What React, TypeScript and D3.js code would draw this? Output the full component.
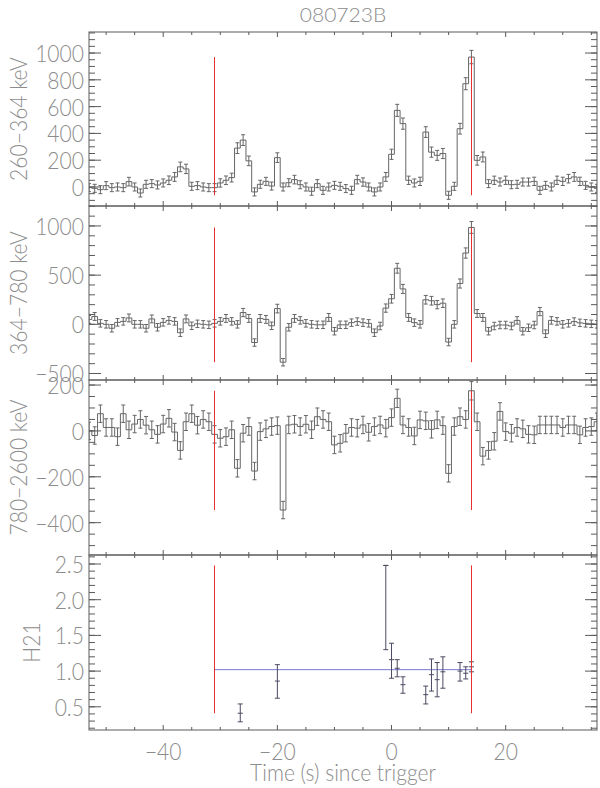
import React from "react";
import * as d3 from "d3";

// 1-s bins, centres in seconds since trigger
const BIN_CENTERS = d3.range(-53, 37);

const RATE_260_364 = [
  -5, -10, -20, 10, -5, 0, -5, 40, 0, -45,
  20, 25, 15, 30, 50, 75, 150, 135, 5, 10,
  0, -5, -5, 30, 50, 70, 290, 350, 195, -37,
  20, 42, 7, 219, 0, 32, 55, 17, 0, -32,
  25, -25, 0, 12, 5, -12, -25, 55, 37, 0,
  -37, 0, 75, 244, 572, 473, 50, 30, 42, 410,
  260, 236, 250, -62, 5, 435, 771, 970, 199, 224,
  25, 50, 37, 50, 17, 20, 37, 37, 42, -25,
  12, 0, 50, 42, 62, 75, 42, 12, 0, -10,
];
const ERR_260_364 = [
  30, 30, 30, 30, 30, 30, 30, 32, 30, 30,
  30, 30, 30, 30, 32, 33, 36, 35, 30, 30,
  30, 30, 30, 31, 32, 33, 40, 40, 36, 30,
  30, 30, 30, 36, 30, 30, 32, 30, 30, 30,
  30, 30, 30, 30, 30, 30, 30, 32, 31, 30,
  30, 30, 33, 38, 45, 42, 31, 30, 31, 40,
  38, 37, 38, 30, 30, 40, 45, 50, 36, 37,
  30, 31, 30, 31, 30, 30, 30, 30, 31, 30,
  30, 30, 31, 31, 32, 33, 31, 30, 30, 30,
];

const RATE_364_780 = [
  50, 80, 10, 0, -40, 20, 30, 65, 0, 0,
  -40, 55, -30, 20, 40, 30, -85, 55, -15, 5,
  0, -5, 10, 30, 60, 30, 0, 120, 60, -185,
  60, 50, -15, 160, -385, -30, 60, 40, 10, 0,
  -5, -5, 70, -70, -5, -5, 17, 28, 17, 10,
  -85, -17, 165, 260, 570, 360, 70, 17, 0, 250,
  240, 200, 215, -180, 0, 415, 725, 985, 110, 70,
  -70, -17, -7, -7, -17, 40, -70, -35, -7, 130,
  -95, 40, 30, 0, 10, 28, 15, 10, 5, 0,
];
const ERR_364_780 = [
  40, 40, 38, 38, 38, 38, 38, 40, 38, 38,
  38, 40, 38, 38, 38, 38, 38, 40, 38, 38,
  38, 38, 38, 38, 40, 38, 38, 42, 40, 38,
  40, 40, 38, 44, 38, 38, 40, 38, 38, 38,
  38, 38, 40, 38, 38, 38, 38, 38, 38, 38,
  38, 38, 42, 44, 50, 46, 40, 38, 38, 44,
  44, 42, 43, 38, 38, 46, 52, 60, 40, 40,
  38, 38, 38, 38, 38, 38, 38, 38, 38, 42,
  38, 38, 38, 38, 38, 38, 38, 38, 38, 38,
];

const RATE_780_2600 = [
  0, -20, 75, 15, 15, -25, 75, 5, 30, 50,
  25, 5, -15, 30, 55, -5, -85, 40, 75, 25,
  50, 40, -15, -32, -25, 5, -163, -10, 19, -175,
  -3, 9, 19, 23, -345, 26, 29, 19, 29, 5,
  62, 50, 40, -61, -54, -10, 15, 12, 26, -6,
  19, 26, 12, 58, 142, 26, 15, -22, 48, 44,
  7, 48, 23, -185, 19, 62, 50, 175, 40, -110,
  -85, -45, 85, -3, -10, 15, 9, -15, -17, 26,
  26, 26, 26, 15, 26, 26, -17, 15, 19, 40,
];
const ERR_780_2600 = [
  38, 38, 38, 38, 38, 38, 38, 38, 38, 38,
  38, 38, 38, 38, 38, 38, 38, 38, 38, 38,
  38, 38, 38, 38, 38, 38, 38, 38, 38, 38,
  38, 38, 38, 38, 38, 38, 38, 38, 38, 38,
  38, 38, 38, 38, 38, 38, 38, 38, 38, 38,
  38, 38, 38, 38, 40, 38, 38, 38, 38, 38,
  38, 38, 38, 38, 38, 38, 38, 40, 38, 38,
  38, 38, 38, 38, 38, 38, 38, 38, 38, 38,
  38, 38, 38, 38, 38, 38, 38, 38, 38, 38,
];

// hardness ratio points
const H21_TIME = [-26.5, -20, -1, 0, 1, 2, 6, 7, 8, 9, 12, 13, 14];
const H21_VAL = [0.41, 0.86, 2.48, 1.16, 1.04, 0.81, 0.67, 0.95, 0.88, 0.99, 1.0, 0.97, 1.06];
const H21_LO = [0.29, 0.62, 1.3, 0.9, 0.92, 0.69, 0.54, 0.72, 0.64, 0.76, 0.86, 0.89, 0.99];
const H21_HI = [0.54, 1.09, 2.48, 1.39, 1.16, 0.92, 0.79, 1.17, 1.12, 1.2, 1.12, 1.06, 1.13];
const H21_MEAN = 1.02;

const T90_START = -31;
const T90_END = 14;

const X_DOMAIN = [-53, 36];
const X_TICKS = [-40, -20, 0, 20];
const X_MINOR = 5;

const Y_TICKS_1 = [0, 200, 400, 600, 800, 1000];
const Y_TICKS_2 = [-500, 0, 500, 1000];
const Y_TICKS_3 = [-400, -200, 0, 200];
const Y_TICKS_4 = [0.5, 1.0, 1.5, 2.0, 2.5];

const TITLE = "080723B";
const Y_LABELS = ["260\u2212364 keV", "364\u2212780 keV", "780\u22122600 keV", "H21"];
const X_LABEL = "Time (s) since trigger";

const W = 600;
const H = 788;
const LEFT = 89;
const RIGHT = 597;
const EDGES = [32, 206, 380, 555, 730];

const FONT = "Lato, 'DejaVu Sans', sans-serif";
const TEXT_COLOR = "#8c8c8c";
const AXIS_COLOR = "#5a5a5a";
const DATA_COLOR = "#666666";
const RED = "#e83030";
const BLUE = "#7a7ad0";

function Label({ x, y, anchor = "middle", rotate = 0, sy = 1.2, children }: any) {
  return (
    <text
      transform={`translate(${x},${y}) rotate(${rotate}) scale(1.08,${sy})`}
      textAnchor={anchor}
      dominantBaseline="central"
      fontFamily={FONT}
      fontWeight={300}
      fontSize={19.5}
      fill={TEXT_COLOR}
    >
      {children}
    </text>
  );
}

const minorTicks = (d0: number, d1: number, step: number) => {
  const n0 = Math.ceil(d0 / step - 1e-9);
  const n1 = Math.floor(d1 / step + 1e-9);
  return d3.range(n0, n1 + 1).map((k) => +(k * step).toFixed(6));
};

const fmt = (v: number, dec: number) =>
  (v < 0 ? "\u2212" : "") + Math.abs(v).toFixed(dec);

const crisp = (v: number) => Math.floor(v) + 0.5;

export default function App() {
  const x = d3.scaleLinear().domain(X_DOMAIN).range([LEFT, RIGHT]);

  const panels = [
    { values: RATE_260_364, errs: ERR_260_364, domain: [-142, 1157], major: Y_TICKS_1, minor: 50, dec: 0, label: Y_LABELS[0], lx: 18 },
    { values: RATE_364_780, errs: ERR_364_780, domain: [-566, 1203], major: Y_TICKS_2, minor: 100, dec: 0, label: Y_LABELS[1], lx: 18 },
    { values: RATE_780_2600, errs: ERR_780_2600, domain: [-541, 222], major: Y_TICKS_3, minor: 50, dec: 0, label: Y_LABELS[2], lx: 18 },
    { values: null, errs: null, domain: [0.175, 2.626], major: Y_TICKS_4, minor: 0.1, dec: 1, label: Y_LABELS[3], lx: 31 },
  ];

  const xMinor = minorTicks(X_DOMAIN[0], X_DOMAIN[1], X_MINOR);

  return (
    <svg width={W} height={H} style={{ position: "absolute", left: 0, top: 0, background: "#fff" }}>
      <rect x={0} y={0} width={W} height={H} fill="#fff" />
      <defs>
        {panels.map((p, i) => (
          <clipPath id={`clip${i}`} key={i}>
            <rect x={LEFT} y={EDGES[i]} width={RIGHT - LEFT} height={EDGES[i + 1] - EDGES[i]} />
          </clipPath>
        ))}
      </defs>
      <Label x={(LEFT + RIGHT) / 2} y={14} sy={1.05}>{TITLE}</Label>
      {panels.map((p, i) => {
        const top = EDGES[i];
        const bottom = EDGES[i + 1];
        const y = d3.scaleLinear().domain(p.domain).range([bottom, top]);
        const yMinor = minorTicks(p.domain[0], p.domain[1], p.minor);
        let content: any = null;
        let extent: [number, number];
        if (p.values) {
          const pts: [number, number][] = [];
          p.values.forEach((v: number, k: number) => {
            const c = BIN_CENTERS[k];
            pts.push([x(c - 0.5), y(v)]);
            pts.push([x(c + 0.5), y(v)]);
          });
          const line = d3.line();
          extent = d3.extent(p.values) as [number, number];
          content = (
            <g clipPath={`url(#clip${i})`}>
              <path d={line(pts) || ""} fill="none" stroke={DATA_COLOR} strokeWidth={1} />
              {p.values.map((v: number, k: number) => {
                const cx = x(BIN_CENTERS[k]);
                const e = p.errs![k];
                return (
                  <g key={k} stroke={DATA_COLOR} strokeWidth={1}>
                    <line x1={cx} x2={cx} y1={y(v - e)} y2={y(v + e)} />
                    <line x1={cx - 2} x2={cx + 2} y1={y(v - e)} y2={y(v - e)} />
                    <line x1={cx - 2} x2={cx + 2} y1={y(v + e)} y2={y(v + e)} />
                  </g>
                );
              })}
            </g>
          );
        } else {
          extent = d3.extent(H21_VAL) as [number, number];
          content = (
            <g clipPath={`url(#clip${i})`}>
              <line x1={x(T90_START)} x2={x(T90_END)} y1={y(H21_MEAN)} y2={y(H21_MEAN)} stroke={BLUE} strokeWidth={1} />
              {H21_TIME.map((t, k) => {
                const cx = x(t);
                return (
                  <g key={k} stroke="#4a4a62" strokeWidth={1}>
                    <line x1={cx} x2={cx} y1={y(H21_LO[k])} y2={y(H21_HI[k])} />
                    <line x1={cx - 2.5} x2={cx + 2.5} y1={y(H21_LO[k])} y2={y(H21_LO[k])} />
                    <line x1={cx - 2.5} x2={cx + 2.5} y1={y(H21_HI[k])} y2={y(H21_HI[k])} />
                    <line x1={cx - 2.5} x2={cx + 2.5} y1={y(H21_VAL[k])} y2={y(H21_VAL[k])} />
                  </g>
                );
              })}
            </g>
          );
        }
        return (
          <g key={i}>
            {content}
            {[T90_START, T90_END].map((t) => (
              <line key={t} x1={crisp(x(t))} x2={crisp(x(t))} y1={y(extent[0])} y2={y(extent[1])} stroke={RED} strokeWidth={1} />
            ))}
            <rect x={LEFT} y={top} width={RIGHT - LEFT} height={bottom - top} fill="none" stroke={AXIS_COLOR} strokeWidth={1} />
            {yMinor.map((v) => (
              <g key={`ym${v}`} stroke={AXIS_COLOR} strokeWidth={1}>
                <line x1={LEFT} x2={LEFT + 6} y1={y(v)} y2={y(v)} />
                <line x1={RIGHT} x2={RIGHT - 6} y1={y(v)} y2={y(v)} />
              </g>
            ))}
            {p.major.map((v) => (
              <g key={`yM${v}`}>
                <line x1={LEFT} x2={LEFT + 12} y1={y(v)} y2={y(v)} stroke={AXIS_COLOR} />
                <line x1={RIGHT} x2={RIGHT - 12} y1={y(v)} y2={y(v)} stroke={AXIS_COLOR} />
                <Label x={84} y={y(v)} anchor="end">{fmt(v, p.dec)}</Label>
              </g>
            ))}
            {xMinor.map((v) => {
              const len = X_TICKS.includes(v) ? 5 : 3;
              return (
                <g key={`xm${v}`} stroke={AXIS_COLOR} strokeWidth={1}>
                  <line x1={x(v)} x2={x(v)} y1={bottom} y2={bottom - len} />
                  <line x1={x(v)} x2={x(v)} y1={top} y2={top + len} />
                </g>
              );
            })}
            <Label x={p.lx} y={(top + bottom) / 2} rotate={-90}>{p.label}</Label>
          </g>
        );
      })}
      {X_TICKS.map((v) => (
        <Label key={v} x={x(v)} y={751}>{fmt(v, 0)}</Label>
      ))}
      <Label x={(LEFT + RIGHT) / 2} y={772}>{X_LABEL}</Label>
    </svg>
  );
}
